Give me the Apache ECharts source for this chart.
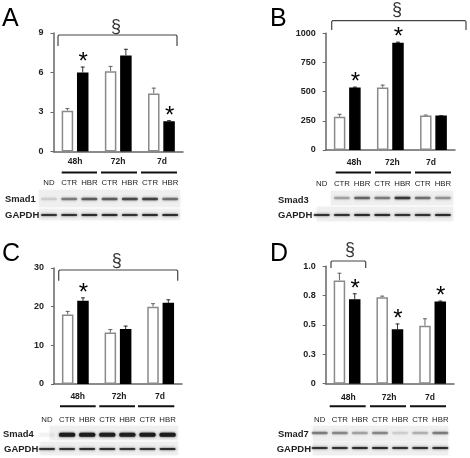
<!DOCTYPE html>
<html><head><meta charset="utf-8">
<style>html,body{margin:0;padding:0;background:#fff}#c{width:470px;height:458px}</style>
<script src="https://cdn.jsdelivr.net/npm/echarts@6/dist/echarts.min.js"></script>
</head><body><div id="c"></div>
<script>
// ---- data ----
const categories = ['48h', '72h', '7d'];
const laneNames = ['ND', 'CTR', 'HBR', 'CTR', 'HBR', 'CTR', 'HBR'];

const ctrA = [3.1, 6.1, 4.4],  hbrA = [6.0, 7.3, 2.3];
const ctrAErr = [0.2, 0.4, 0.45], hbrAErr = [0.45, 0.5, 0.08];
const starA = [true, false, true];
const ticksA = ['0', '3', '6', '9'];
const bandA = [0.1, 0.4, 0.55, 0.55, 0.65, 0.7, 0.45];
const gapdhA = [0.8, 0.8, 0.85, 0.85, 0.8, 0.85, 0.85];

const ctrB = [285, 535, 295],  hbrB = [535, 920, 295];
const ctrBErr = [25, 25, 8], hbrBErr = [8, 8, 3];
const starB = [true, true, false];
const ticksB = ['0', '250', '500', '750', '1000'];
const bandB = [0, 0.25, 0.5, 0.4, 0.75, 0.45, 0.3];
const gapdhB = [0.8, 0.8, 0.85, 0.85, 0.8, 0.8, 0.85];

const ctrC = [18, 13.3, 20],  hbrC = [21.5, 14.2, 21];
const ctrCErr = [0.9, 0.9, 0.9], hbrCErr = [0.9, 0.9, 0.9];
const starC = [true, false, false];
const ticksC = ['0', '10', '20', '30'];
const bandC = [0.03, 1, 1, 0.95, 0.95, 1, 1];
const gapdhC = [0.8, 0.8, 0.85, 0.85, 0.8, 0.8, 0.85];

const ctrD = [0.88, 0.736, 0.494],  hbrD = [0.72, 0.463, 0.70];
const ctrDErr = [0.065, 0.014, 0.063], hbrDErr = [0.05, 0.05, 0.008];
const starD = [true, true, true];
const ticksD = ['0', '0.3', '0.5', '0.8', '1.0'];
const bandD = [0.4, 0.35, 0.25, 0.35, 0.1, 0.2, 0.4];
const gapdhD = [0.8, 0.8, 0.85, 0.85, 0.8, 0.8, 0.85];

// ---- layout ----
const panels = [
 {letter:'A', lx:2, ly:19, ctr:ctrA, hbr:hbrA, ctrE:ctrAErr, hbrE:hbrAErr, star:starA, ticks:ticksA, max:9, step:3,
  l:53.5, r:183, t:33, b:151.5, catX:[75,118,162], catY:162,
  groups:[[61.7,97],[101,137],[141,177]], groupY:172.5,
  br:[58,177,35,46], sec:[116,27], laneX:49, laneY:183, lanePitch:20.2,
  name:'Smad1', nameX:5, nameY:199.5, gx:5, gy:215,
  blot:[39,190,141,17], blot2:[39,209,141,11], bandY:199, band2Y:215, band:bandA, gapdh:gapdhA},
 {letter:'B', lx:270, ly:19, ctr:ctrB, hbr:hbrB, ctrE:ctrBErr, hbrE:hbrBErr, star:starB, ticks:ticksB, max:1000, step:250,
  l:325.7, r:455, t:33.3, b:150, catX:[354,392.3,431], catY:162.5,
  groups:[[335.7,371],[375,411],[415,451]], groupY:172.5,
  br:[331.7,466,20.7,30], sec:[397,10.5], laneX:321.7, laneY:183.5, lanePitch:20.2,
  name:'Smad3', nameX:278, nameY:200, gx:278, gy:215,
  blot:[331,191,122,14], blot2:[317,207,136,14], bandY:198, band2Y:215, band:bandB, gapdh:gapdhB},
 {letter:'C', lx:2, ly:254, ctr:ctrC, hbr:hbrC, ctrE:ctrCErr, hbrE:hbrCErr, star:starC, ticks:ticksC, max:30, step:10,
  l:54, r:182, t:268, b:384, catX:[77.7,119,160], catY:397,
  groups:[[60,95.7],[99.3,135],[138,174.3]], groupY:406.3,
  br:[58.7,177.7,270,280.7], sec:[116.7,261], laneX:47, laneY:419.5, lanePitch:20.1,
  name:'Smad4', nameX:3, nameY:434, gx:4, gy:449.7,
  blot:[50,426,128,14], blot2:[40,442,138,13], bandY:434.7, band2Y:449, band:bandC, gapdh:gapdhC},
 {letter:'D', lx:270, ly:254, ctr:ctrD, hbr:hbrD, ctrE:ctrDErr, hbrE:hbrDErr, star:starD, ticks:ticksD, max:1, step:0.25,
  l:325.7, r:454, t:266.3, b:383.7, catX:[348.3,389,430], catY:397.3,
  groups:[[329.7,365.7],[370,406],[410,446]], groupY:406.3,
  br:[331,365.7,261,268], sec:[350,249.7], laneX:319.7, laneY:419.5, lanePitch:20.1,
  name:'Smad7', nameX:278, nameY:434, gx:276.7, gy:449,
  blot:[313,426,135,15], blot2:[313,442,135,13], bandY:433, band2Y:448, band:bandD, gapdh:gapdhD}
];

const SANS = '"Liberation Sans", Arial, sans-serif';
const grid = [], xAxis = [], yAxis = [], series = [], graphic = [];
const BAR_W = 11.5, HALF_PITCH = 7.65;

function txt(s, x, y, font, align, fill) {
  graphic.push({type:'text', silent:true, z:20, style:{text:s, x:x, y:y, font:font, fill:fill||'#1a1a1a',
    textAlign:align||'center', textVerticalAlign:'middle'}});
}
function blotBg(r) {
  graphic.push({type:'rect', silent:true, z:1, shape:{x:r[0],y:r[1],width:r[2],height:r[3]},
    style:{fill:'#efefef', shadowBlur:3, shadowColor:'#efefef'}});
}
function band(x, y, w, h, a) {
  graphic.push({type:'rect', silent:true, z:2, shape:{x:x-w/2,y:y-h/2,width:w,height:h,r:1.5},
    style:{fill:'#1c1c1c', opacity:a, shadowBlur:2.5, shadowColor:'#222'}});
}

panels.forEach((p, i) => {
  grid.push({left:p.l, top:p.t, width:p.r-p.l, height:p.b-p.t});
  xAxis.push({type:'category', gridIndex:i, data:categories,
    axisLine:{lineStyle:{color:'#666', width:1.5}}, axisTick:{show:false}, axisLabel:{show:false}});
  yAxis.push({type:'value', gridIndex:i, min:0, max:p.max, interval:p.step,
    axisLine:{show:true, lineStyle:{color:'#666', width:1.5}},
    axisTick:{show:true, length:3, lineStyle:{color:'#666', width:1}},
    splitLine:{show:false},
    axisLabel:{margin:10, color:'#222', fontFamily:'"Liberation Sans", Arial, sans-serif', fontWeight:'bold', fontSize:9,
      formatter:(v) => p.ticks[Math.round(v/p.step)]}});
  series.push({type:'bar', name:'CTR', xAxisIndex:i, yAxisIndex:i, data:p.ctr, barWidth:BAR_W, barGap:'33%', z:3,
    itemStyle:{color:'#fff', borderColor:'#8a8a8a', borderWidth:1.5}});
  series.push({type:'bar', name:'HBR', xAxisIndex:i, yAxisIndex:i, data:p.hbr, barWidth:BAR_W, barGap:'33%', z:3,
    itemStyle:{color:'#000', borderColor:'#000', borderWidth:1.5}});
  const errRows = [];
  categories.forEach((c, k) => {
    errRows.push([k, p.ctr[k], p.ctrE[k], -1, 0]);
    errRows.push([k, p.hbr[k], p.hbrE[k], 1, p.star[k] ? 1 : 0]);
  });
  series.push({type:'custom', xAxisIndex:i, yAxisIndex:i, data:errRows, z:2, clip:false, silent:true,
    encode:{x:0, y:1},
    renderItem:(params, api) => {
      const k = api.value(0), v = api.value(1), e = api.value(2), side = api.value(3), st = api.value(4);
      const base = api.coord([k, v]), top = api.coord([k, v + e]);
      const x = base[0] + side * HALF_PITCH, col = side < 0 ? '#666' : '#333';
      const kids = [
        {type:'line', shape:{x1:x, y1:base[1], x2:x, y2:top[1]}, style:{stroke:col, lineWidth:1}},
        {type:'line', shape:{x1:x-2, y1:top[1]+0.5, x2:x+2, y2:top[1]+0.5}, style:{stroke:col, lineWidth:1}}
      ];
      if (st) kids.push({type:'text', style:{text:'*', x:x+0.5, y:top[1]-4, font:'24px '+SANS, fill:'#000',
        textAlign:'center', textVerticalAlign:'middle'}});
      return {type:'group', children:kids};
    }});

  // annotations
  txt(p.letter, p.lx, p.ly, '25px '+SANS, 'left', '#000');
  categories.forEach((c, k) => txt(c, p.catX[k], p.catY, 'bold 8.5px '+SANS));
  p.groups.forEach(g => graphic.push({type:'line', silent:true, z:10,
    shape:{x1:g[0], y1:p.groupY, x2:g[1], y2:p.groupY}, style:{stroke:'#111', lineWidth:2}}));
  const b = p.br;
  graphic.push({type:'polyline', silent:true, z:10,
    shape:{points:[[b[0],b[3]],[b[0],b[2]+1],[b[0]+1,b[2]],[b[1]-1,b[2]],[b[1],b[2]+1],[b[1],b[3]]]},
    style:{stroke:'#444', lineWidth:1.2, fill:null}});
  txt('§', p.sec[0], p.sec[1], '18px '+SANS, 'center', '#333');
  laneNames.forEach((n, k) => {
    const lx = p.laneX + k * p.lanePitch;
    txt(n, lx, p.laneY, '7.8px '+SANS, 'center', '#222');
  });
  blotBg(p.blot); blotBg(p.blot2);
  laneNames.forEach((n, k) => {
    const lx = p.laneX + k * p.lanePitch;
    if (p.band[k] > 0) band(lx, p.bandY, 16, p.letter === 'C' ? 4 : 2.5, p.band[k]);
    band(lx, p.band2Y, 16, 2.2, p.gapdh[k]);
  });
  txt(p.name, p.nameX, p.nameY, 'bold 9.4px '+SANS, 'left', '#222');
  txt('GAPDH', p.gx, p.gy, 'bold 9.5px '+SANS, 'left', '#222');
});

const chart = echarts.init(document.getElementById('c'), null, {renderer:'canvas'});
chart.setOption({animation:false, backgroundColor:'#fff', grid, xAxis, yAxis, series, graphic});
</script></body></html>
